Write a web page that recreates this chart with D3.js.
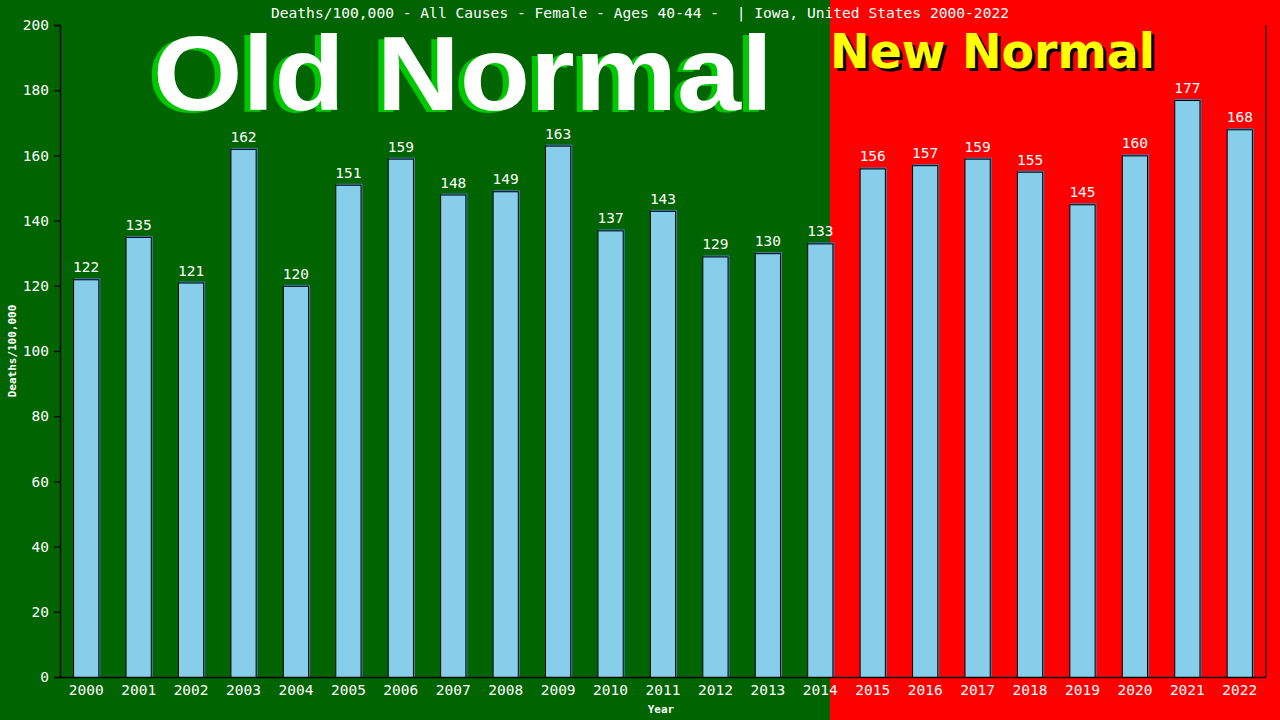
<!DOCTYPE html>
<html><head><meta charset="utf-8">
<script src="https://cdn.jsdelivr.net/npm/d3@7"></script>
<style>html,body{margin:0;padding:0;background:#006400;}svg{display:block;}</style>
</head><body>
<svg id="chart" width="1280" height="720"></svg>
<script>
const years = ["2000","2001","2002","2003","2004","2005","2006","2007","2008","2009","2010","2011","2012","2013","2014","2015","2016","2017","2018","2019","2020","2021","2022"];
const deaths = [122,135,121,162,120,151,159,148,149,163,137,143,129,130,133,156,157,159,155,145,160,177,168];
const yTicks = [0,20,40,60,80,100,120,140,160,180,200];
const titleText = "Deaths/100,000 - All Causes - Female - Ages 40-44 -  | Iowa, United States 2000-2022";

const W = 1280, H = 720;
const m = {left:60, right:1266, top:25, bottom:677};
const splitX = 830;
const svg = d3.select("#chart");
const mono = "'DejaVu Sans Mono', monospace";

svg.append("rect").attr("x",0).attr("y",0).attr("width",splitX).attr("height",H).attr("fill","#006400");
svg.append("rect").attr("x",splitX).attr("y",0).attr("width",W-splitX).attr("height",H).attr("fill","#ff0000");

const x = d3.scaleBand().domain(years).range([m.left, m.right]).paddingInner(0.5).paddingOuter(0.25);
const y = d3.scaleLinear().domain([0,200]).range([m.bottom, m.top]);

// Big labels
const oldG = svg.append("g");
oldG.append("text").attr("x",457).attr("y",112).attr("text-anchor","middle")
  .attr("font-family","'Liberation Sans', Arial, sans-serif").attr("font-weight","bold").attr("font-size",105)
  .attr("textLength",620).attr("lengthAdjust","spacingAndGlyphs")
  .attr("fill","#00c800").text("Old Normal");
oldG.append("text").attr("x",463).attr("y",110).attr("text-anchor","middle")
  .attr("font-family","'Liberation Sans', Arial, sans-serif").attr("font-weight","bold").attr("font-size",105)
  .attr("textLength",620).attr("lengthAdjust","spacingAndGlyphs")
  .attr("fill","#ffffff").text("Old Normal");

svg.append("text").attr("x",833).attr("y",71)
  .attr("font-family","'DejaVu Sans', sans-serif").attr("font-weight","bold").attr("font-size",48)
  .attr("textLength",325).attr("lengthAdjust","spacingAndGlyphs")
  .attr("fill","#000").text("New Normal");
svg.append("text").attr("x",830).attr("y",68)
  .attr("font-family","'DejaVu Sans', sans-serif").attr("font-weight","bold").attr("font-size",48)
  .attr("textLength",325).attr("lengthAdjust","spacingAndGlyphs")
  .attr("fill","#ffff00").text("New Normal");

// Title
svg.append("text").attr("x",640).attr("y",18).attr("text-anchor","middle")
  .attr("font-family",mono).attr("font-size",14.6).attr("fill","#fff")
  .attr("xml:space","preserve").style("white-space","pre").text(titleText);

// Bars
const bars = svg.append("g");
years.forEach((yr,i)=>{
  const bx = x(yr), bw = x.bandwidth(), by = y(deaths[i]), bh = y(0)-y(deaths[i]);
  bars.append("rect").attr("x",bx+1).attr("y",by-1).attr("width",bw).attr("height",bh+1).attr("fill","#4682b4");
  bars.append("rect").attr("x",bx+0.5).attr("y",by+0.5).attr("width",bw-1).attr("height",bh).attr("fill","#87ceeb")
    .attr("stroke","#000").attr("stroke-width",1);
  bars.append("text").attr("x",bx+bw/2).attr("y",by-7).attr("text-anchor","middle")
    .attr("font-family",mono).attr("font-size",14.5).attr("fill","#fff").text(deaths[i]);
});

// Axes
const yAxis = svg.append("g").attr("transform",`translate(${m.left},0)`)
  .call(d3.axisLeft(y).tickValues(yTicks).tickSize(6).tickPadding(5));
yAxis.select(".domain").attr("stroke","#000").attr("stroke-width",1.5);
yAxis.selectAll(".tick line").attr("stroke","#000").attr("stroke-width",1.2);
yAxis.selectAll(".tick text").attr("fill","#fff").attr("font-family",mono).attr("font-size",14.5);

const xAxis = svg.append("g").attr("transform",`translate(0,${m.bottom})`)
  .call(d3.axisBottom(x).tickSize(0).tickPadding(6));
xAxis.select(".domain").remove();
xAxis.selectAll(".tick text").attr("fill","#fff").attr("font-family",mono).attr("font-size",14.5).attr("dy","0.85em");

svg.append("line").attr("x1",m.left).attr("x2",m.right).attr("y1",m.bottom+0.5).attr("y2",m.bottom+0.5).attr("stroke","#000").attr("stroke-width",1.5);
svg.append("line").attr("x1",m.right).attr("x2",m.right).attr("y1",m.top).attr("y2",m.bottom).attr("stroke","#000").attr("stroke-width",1.2);

// Axis titles
svg.append("text").attr("transform","translate(16,351) rotate(-90)").attr("text-anchor","middle")
  .attr("font-family",mono).attr("font-weight","bold").attr("font-size",11).attr("fill","#fff").text("Deaths/100,000");
svg.append("text").attr("x",661).attr("y",713).attr("text-anchor","middle")
  .attr("font-family",mono).attr("font-weight","bold").attr("font-size",11).attr("fill","#fff").text("Year");
</script>
</body></html>
